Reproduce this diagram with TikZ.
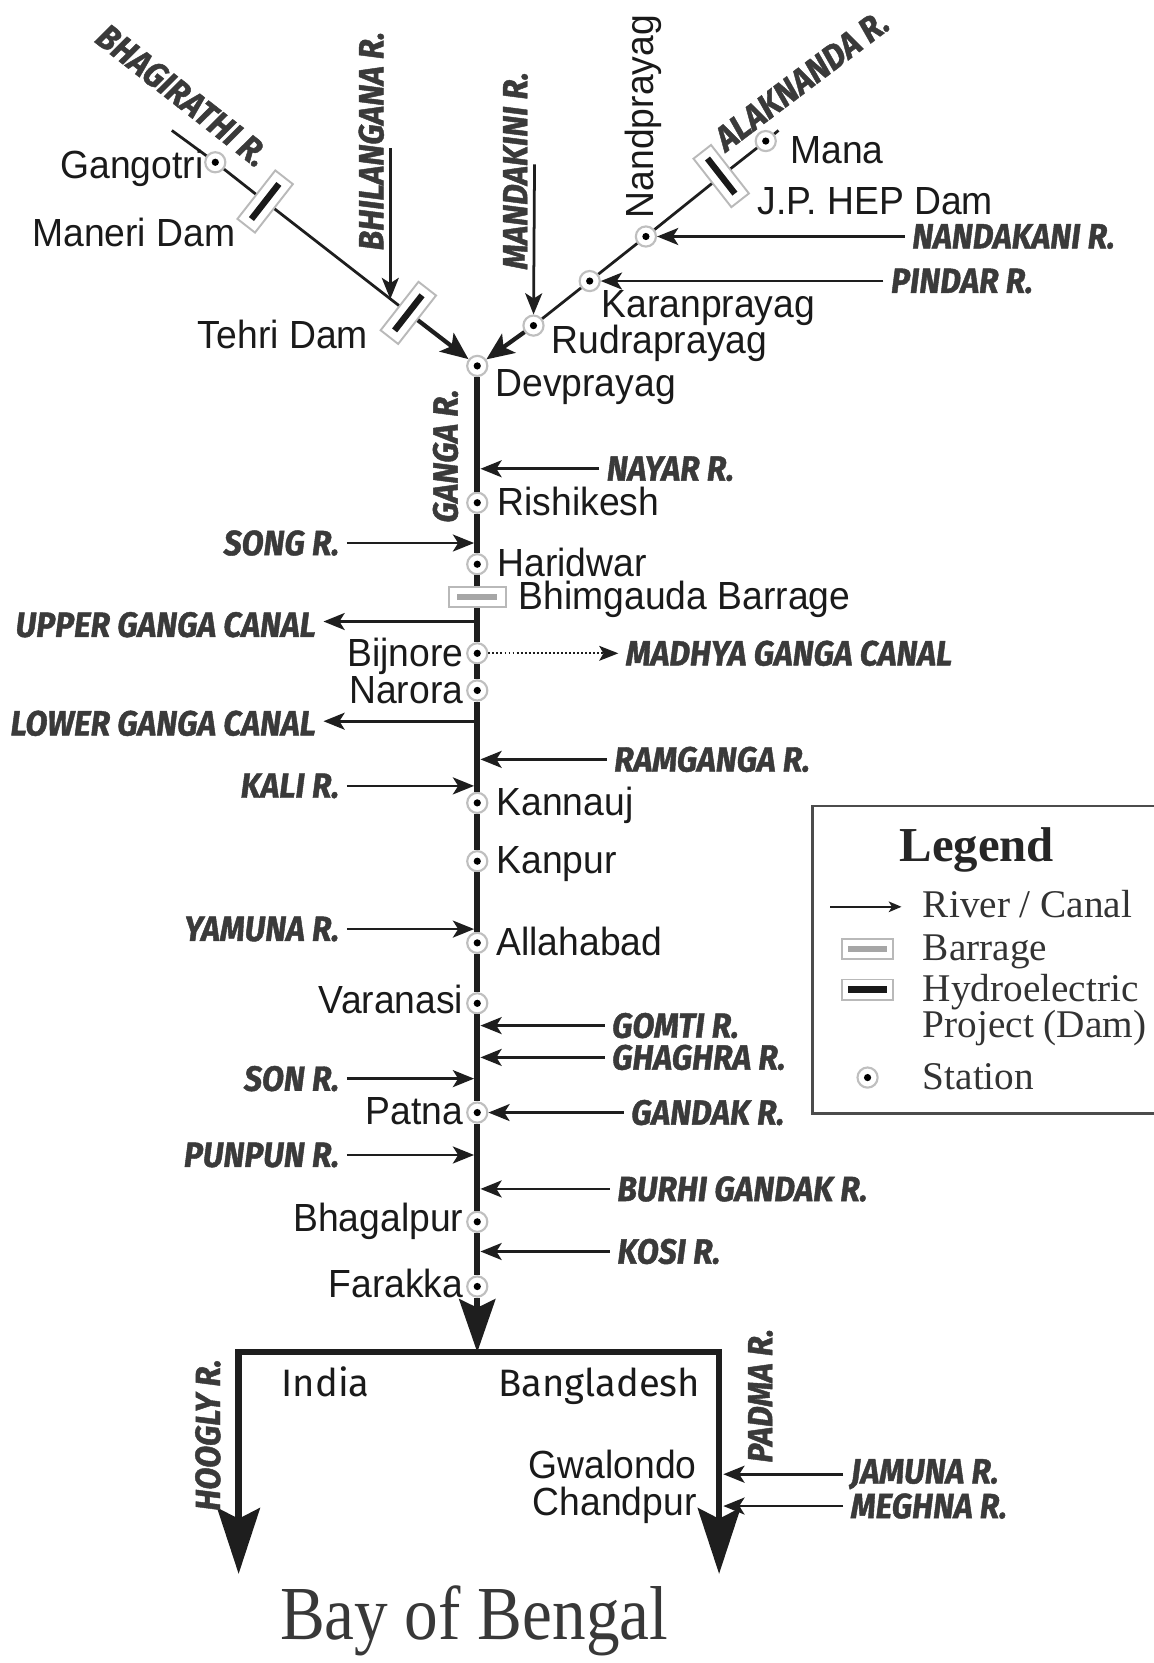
\documentclass[tikz,border=0pt]{standalone}
\usepackage{fontspec}
\setmainfont{Liberation Sans}
\newfontfamily\stnfont[FakeStretch=0.95]{Liberation Sans}
\newfontfamily\rivfont[FakeStretch=0.915,FakeBold=1.2]{Fira Sans}
\newfontfamily\legfont{Liberation Serif}
\newfontfamily\bayfont[FakeStretch=0.88]{Liberation Serif}
\newfontfamily\cntfont{Fira Sans}
\usetikzlibrary{arrows.meta}
\definecolor{stn}{HTML}{1A1A1A}
\definecolor{riv}{HTML}{3A3A3A}
\definecolor{ln}{HTML}{1E1E1E}
\tikzset{
 stationpt/.style={circle, minimum size=19pt, inner sep=0pt, draw=gray!50, line width=2pt, fill=white,
   path picture={\fill[black] (path picture bounding box.center) circle (3.4pt);}},
 stnlbl/.style={inner sep=0pt, text=stn, font=\stnfont\fontsize{37}{44}\selectfont},
 rivlbl/.style={inner xsep=7pt, inner ysep=0pt, text=riv, font=\rivfont\bfseries\itshape\fontsize{33}{38}\selectfont},
 trib/.style={line width=2.6pt, draw=ln, -{Stealth[length=20pt,width=16pt,inset=5pt]}},
 ganga/.style={line width=5.5pt, draw=ln},
 upriver/.style={line width=2.6pt, draw=ln},
 bigup/.style={line width=4pt, draw=ln, -{Stealth[length=26pt,width=22pt,inset=6pt]}},
 dambox/.style={rectangle, draw=gray!55, line width=1.8pt, fill=white, minimum width=58pt, minimum height=21pt, inner sep=0pt},
 dambar/.style={rectangle, fill=black!90, minimum width=42pt, minimum height=6pt, inner sep=0pt},
 barbar/.style={rectangle, fill=gray!70, minimum width=38pt, minimum height=6pt, inner sep=0pt},
 leglbl/.style={inner sep=0pt, text=black!80, font=\legfont\fontsize{37}{40}\selectfont},
}
\begin{document}
\begin{tikzpicture}[x=1pt,y=-1pt]
\path[use as bounding box, fill=white] (0,0) rectangle (1088,1568);

% ---------- stations ----------
\node[stationpt] (gangotri) at (203,153) {};
\node[stationpt] (mana) at (722,133) {};
\node[stationpt] (nandp) at (609,223) {};
\node[stationpt] (karanp) at (556,265) {};
\node[stationpt] (rudrap) at (503,307) {};
\node[stationpt] (devp) at (450,345) {};
\node[stationpt] (rish) at (450,474) {};
\node[stationpt] (hari) at (450,532) {};
\node[dambox, minimum width=54pt, minimum height=19pt] (bhim) at (450,563) {};
\node[barbar] (bhimbar) at (450,563) {};
\node[stationpt] (bij) at (450,616) {};
\node[stationpt] (nar) at (450,651) {};
\node[stationpt] (kann) at (450,757) {};
\node[stationpt] (kanp) at (450,812) {};
\node[stationpt] (alla) at (450,889) {};
\node[stationpt] (vara) at (450,946) {};
\node[stationpt] (patna) at (450,1049) {};
\node[stationpt] (bhag) at (450,1152) {};
\node[stationpt] (fara) at (450,1213) {};

% ---------- dams ----------
\node[dambox, rotate=52] (maneri) at (250,190) {};
\node[dambar, rotate=52] (manerib) at (250,190) {};
\node[dambox, rotate=52] (tehri) at (385,295) {};
\node[dambar, rotate=52] (tehrib) at (385,295) {};
\node[dambox, rotate=-52] (jpdam) at (680,166) {};
\node[dambar, rotate=-52] (jpdamb) at (680,166) {};

% ---------- upper rivers ----------
\coordinate (bstart) at (162,123);
\coordinate (astart) at (734,123);
\draw[upriver] (bstart) -- (gangotri) -- (maneri) -- (tehri);
\draw[bigup] (tehri) -- (devp);
\draw[upriver] (astart) -- (mana) -- (jpdam) -- (nandp) -- (karanp) -- (rudrap);
\draw[bigup] (rudrap) -- (devp);

\coordinate (bhilS) at (368,140);
\coordinate (bhilE) at (368,282);
\draw[trib] (bhilS) -- (bhilE);
\coordinate (mandS) at (504,155);
\draw[trib] (mandS) -- (rudrap);

\node[rivlbl, rotate=-38] (bhagirathiL) at (172,90) {BHAGIRATHI R.};
\node[rivlbl, rotate=37] (alaknandaL) at (756,76) {ALAKNANDA R.};
\node[rivlbl, rotate=90] (bhilL) at (350,133) {BHILANGANA R.};
\node[rivlbl, rotate=90] (mandL) at (486,161) {MANDAKINI R.};
\node[stnlbl, rotate=90] (nandpL) at (607,110) {Nandprayag};
\node[rivlbl, anchor=west] (nandakani) at (853,223) {NANDAKANI R.};
\node[rivlbl, anchor=west] (pindar) at (833,265) {PINDAR R.};
\draw[trib] (nandakani.west) -- (nandp);
\draw[trib] (pindar.west) -- (karanp);

\node[stnlbl, anchor=base east] (gangotriL) at (192,168) {Gangotri};
\node[stnlbl, anchor=base east] (maneriL) at (222,232) {Maneri Dam};
\node[stnlbl, anchor=base east] (tehriL) at (347,329) {Tehri Dam};
\node[stnlbl, anchor=base west] (manaL) at (745,154) {Mana};
\node[stnlbl, anchor=base west] (jpL) at (714,202) {J.P. HEP Dam};
\node[stnlbl, anchor=base west] (karanL) at (567,299) {Karanprayag};
\node[stnlbl, anchor=base west] (rudraL) at (520,333) {Rudraprayag};
\node[stnlbl, anchor=base west] (devpL) at (467,374) {Devprayag};

% ---------- main Ganga ----------
\draw[ganga] (devp) -- (rish) -- (hari) -- (bhim) -- (bij) -- (nar) -- (kann) -- (kanp)
  -- (alla) -- (vara) -- (patna) -- (bhag) -- (fara);
\coordinate (fork) at (450,1275);
\draw[ganga, -{Stealth[length=50pt,width=34pt,inset=8pt]}] (fara) -- (fork);

\node[rivlbl, rotate=90] (gangaL) at (420,430) {GANGA R.};

\node[stnlbl, anchor=base west] (rishL) at (469,486) {Rishikesh};
\node[stnlbl, anchor=base west] (hariL) at (469,544) {Haridwar};
\node[stnlbl, anchor=base west] (bhimL) at (489,575) {Bhimgauda Barrage};
\node[stnlbl, anchor=base east] (bijL) at (437,628) {Bijnore};
\node[stnlbl, anchor=base east] (narL) at (437,663) {Narora};
\node[stnlbl, anchor=base west] (kannL) at (468,769) {Kannauj};
\node[stnlbl, anchor=base west] (kanpL) at (468,824) {Kanpur};
\node[stnlbl, anchor=base west] (allaL) at (468,901) {Allahabad};
\node[stnlbl, anchor=base east] (varaL) at (437,956) {Varanasi};
\node[stnlbl, anchor=base east] (patnaL) at (437,1060) {Patna};
\node[stnlbl, anchor=base east] (bhagL) at (437,1161) {Bhagalpur};
\node[stnlbl, anchor=base east] (faraL) at (437,1223) {Farakka};

% right-side tributaries
\node[rivlbl, anchor=west] (nayar) at (565,442) {NAYAR R.};
\coordinate (nayarE) at (453,442);
\draw[trib] (nayar.west) -- (nayarE);
\node[rivlbl, anchor=west] (ramganga) at (572,716) {RAMGANGA R.};
\coordinate (ramE) at (453,716);
\draw[trib] (ramganga.west) -- (ramE);
\node[rivlbl, anchor=west] (gomti) at (570,967) {GOMTI R.};
\coordinate (gomE) at (453,967);
\draw[trib] (gomti.west) -- (gomE);
\node[rivlbl, anchor=west] (ghaghra) at (570,997) {GHAGHRA R.};
\coordinate (ghaE) at (453,997);
\draw[trib] (ghaghra.west) -- (ghaE);
\node[rivlbl, anchor=west] (gandak) at (588,1049) {GANDAK R.};
\draw[trib] (gandak.west) -- (patna);
\node[rivlbl, anchor=west] (burhi) at (575,1121) {BURHI GANDAK R.};
\coordinate (burE) at (453,1121);
\draw[trib] (burhi.west) -- (burE);
\node[rivlbl, anchor=west] (kosi) at (575,1180) {KOSI R.};
\coordinate (kosE) at (453,1180);
\draw[trib] (kosi.west) -- (kosE);

% left-side tributaries
\node[rivlbl, anchor=east] (song) at (327,512) {SONG R.};
\coordinate (songE) at (447,512);
\draw[trib] (song.east) -- (songE);
\node[rivlbl, anchor=east] (kali) at (327,741) {KALI R.};
\coordinate (kaliE) at (447,741);
\draw[trib] (kali.east) -- (kaliE);
\node[rivlbl, anchor=east] (yamuna) at (327,876) {YAMUNA R.};
\coordinate (yamE) at (447,876);
\draw[trib] (yamuna.east) -- (yamE);
\node[rivlbl, anchor=east] (son) at (327,1017) {SON R.};
\coordinate (sonE) at (447,1017);
\draw[trib] (son.east) -- (sonE);
\node[rivlbl, anchor=east] (punpun) at (327,1089) {PUNPUN R.};
\coordinate (punE) at (447,1089);
\draw[trib] (punpun.east) -- (punE);

% canals
\node[rivlbl, anchor=east] (ugc) at (305,589) {UPPER GANGA CANAL};
\coordinate (ugcS) at (450,586);
\draw[trib] (ugcS) -- (ugcS -| ugc.east);
\node[rivlbl, anchor=east] (lgc) at (305,682) {LOWER GANGA CANAL};
\coordinate (lgcS) at (450,680);
\draw[trib] (lgcS) -- (lgcS -| lgc.east);
\node[rivlbl, anchor=west] (mgc) at (583,616) {MADHYA GANGA CANAL};
\draw[line width=1.8pt, draw=ln, dotted, -{Stealth[length=18pt,width=14pt,inset=4pt]}] (bij) -- (mgc.west);

% ---------- delta ----------
\coordinate (forkL) at (225,1275);
\coordinate (forkR) at (678,1275);
\coordinate (hend) at (225,1484);
\coordinate (pend) at (678,1484);
\draw[line width=6pt, draw=ln, line join=miter,
  {Stealth[length=62pt,width=40pt,inset=10pt]}-{Stealth[length=62pt,width=40pt,inset=10pt]}]
  (hend) -- (forkL) -- (forkR) -- (pend);

\node[rivlbl, rotate=90] (hooglyL) at (196,1353) {HOOGLY R.};
\node[rivlbl, rotate=90] (padmaL) at (717,1316) {PADMA R.};
\node[inner sep=0pt, anchor=base, text=stn, font=\cntfont\fontsize{36}{40}\selectfont] (india) at (307,1317) {India};
\node[inner sep=0pt, anchor=base, text=stn, font=\cntfont\fontsize{36}{40}\selectfont] (bangla) at (565,1317) {Bangladesh};
\node[stnlbl, anchor=base east] (gwalL) at (657,1394) {Gwalondo};
\node[stnlbl, anchor=base east] (chandL) at (657,1429) {Chandpur};

\node[rivlbl, anchor=west] (jamuna) at (795,1390) {JAMUNA R.};
\coordinate (jamE) at (682,1390);
\draw[trib] (jamuna.west) -- (jamE);
\node[rivlbl, anchor=west] (meghna) at (795,1420) {MEGHNA R.};
\coordinate (megE) at (682,1420);
\draw[trib] (meghna.west) -- (megE);

\node[inner sep=0pt, anchor=base, text=black!78, font=\bayfont\fontsize{72}{80}\selectfont] (bay) at (447,1546) {Bay of Bengal};

% ---------- legend ----------
\draw[line width=2.6pt, draw=black!70] (1092,760) -- (766,760) -- (766,1050) -- (1092,1050);
\node[inner sep=0pt, anchor=base, text=black!85, font=\legfont\bfseries\fontsize{46}{50}\selectfont] (legT) at (921,812) {Legend};
\coordinate (lgA) at (783,855);
\coordinate (lgB) at (850,855);
\draw[line width=2pt, draw=ln, -{Stealth[length=12pt,width=10pt,inset=3pt]}] (lgA) -- (lgB);
\node[leglbl, anchor=base west] (lgRiver) at (870,865) {River / Canal};
\node[dambox, minimum width=48pt, minimum height=19pt] (lgBar) at (818,895) {};
\node[barbar, minimum width=36pt] (lgBarIn) at (818,895) {};
\node[leglbl, anchor=base west] (lgBarT) at (870,906) {Barrage};
\node[dambox, minimum width=48pt, minimum height=19pt] (lgDam) at (818,933) {};
\node[dambar, minimum width=36pt] (lgDamIn) at (818,933) {};
\node[leglbl, anchor=base west] (lgDamT) at (870,944) {Hydroelectric};
\node[leglbl, anchor=base west] (lgDamT2) at (870,978) {Project (Dam)};
\node[stationpt] (lgSt) at (818,1016) {};
\node[leglbl, anchor=base west] (lgStT) at (870,1027) {Station};
\end{tikzpicture}
\end{document}
